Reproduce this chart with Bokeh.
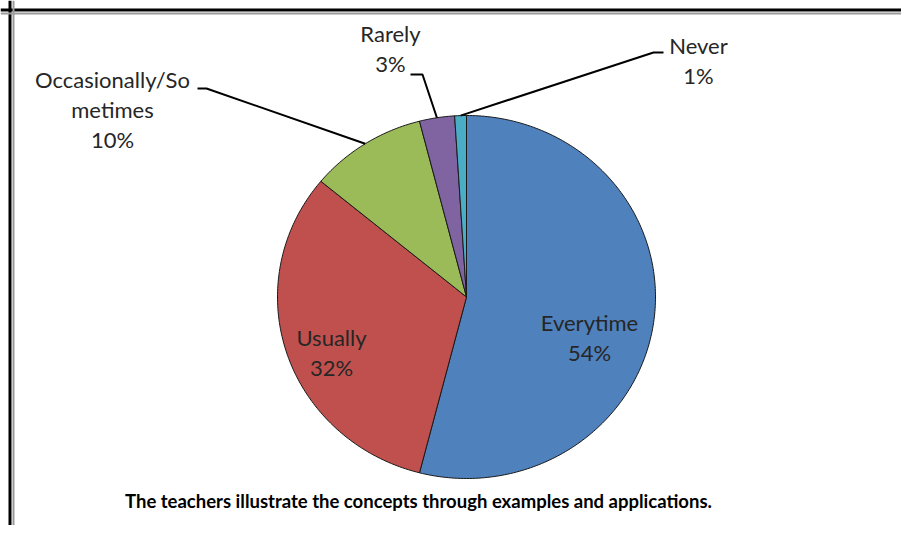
import math
from bokeh.plotting import figure
from bokeh.models import Range1d, Span, ColumnDataSource
from bokeh.core.properties import value
from bokeh.embed import file_html
from bokeh.resources import INLINE

# ---- data ----
categories = ["Everytime", "Usually", "Occasionally/Sometimes", "Rarely", "Never"]
label_names = ["Everytime", "Usually", "Occasionally/So\nmetimes", "Rarely", "Never"]
percent = [54, 32, 10, 3, 1]
colors = ["#4F81BD", "#C0504D", "#9BBB59", "#8064A2", "#4BACC6"]
title_text = "The teachers illustrate the concepts through examples and applications."

# ---- layout (page pixel coordinates) ----
W, H = 901, 525
CX, CY = 466.0, 296.5
RX, RY = 189.0, 181.5
FONT = "Lato"

# label anchor positions (centre of label block) and leader line knee points
label_pos = [(589, 337), (331, 352), (112, 109), (390, 48), (698, 60)]
leader_knee = [None, None, [(197, 88), (206, 88)], [(410, 74), (422, 74)], [(663, 52), (653, 52)]]

p = figure(width=W, height=H, output_backend="svg", toolbar_location=None,
           x_range=Range1d(0, W), y_range=Range1d(H, 0),
           min_border=0, outline_line_color=None)
p.axis.visible = False
p.grid.visible = False
p.background_fill_color = "white"
p.border_fill_color = "white"

def pt(theta_frac, scale=1.0):
    th = 2 * math.pi * theta_frac
    return CX + RX * scale * math.sin(th), CY - RY * scale * math.cos(th)

total = float(sum(percent))
xs, ys, mids = [], [], []
acc = 0.0
for v in percent:
    f0 = acc / total
    f1 = (acc + v) / total
    n = max(4, int(v * 4))
    px, py = [CX], [CY]
    for i in range(n + 1):
        x, y = pt(f0 + (f1 - f0) * i / n)
        px.append(x); py.append(y)
    xs.append(px); ys.append(py)
    mids.append((f0 + f1) / 2)
    acc += v

src = ColumnDataSource(dict(xs=xs, ys=ys, color=colors, cat=categories))
p.patches("xs", "ys", source=src, fill_color="color", line_color="#1a1a1a", line_width=1)

# leader lines
lx, ly = [], []
for i, knee in enumerate(leader_knee):
    if knee is None:
        continue
    ax, ay = pt(mids[i])
    pts = knee + [(ax, ay)]
    lx.append([q[0] for q in pts]); ly.append([q[1] for q in pts])
p.multi_line(lx, ly, line_color="black", line_width=2)

# labels
texts = [f"{n}\n{v}%" for n, v in zip(label_names, percent)]
lsrc = ColumnDataSource(dict(x=[q[0] for q in label_pos], y=[q[1] for q in label_pos], t=texts))
p.text("x", "y", text="t", source=lsrc, text_align="center", text_baseline="middle",
       text_font=value(FONT), text_font_size="22px", text_color="#262626", text_line_height=1.1)

# title
p.text(x=[418], y=[500], text=[title_text], text_align="center", text_baseline="middle",
       text_font=value(FONT), text_font_size="18.5px", text_font_style="bold", text_color="black")

# frame (partial, as cropped in the reference)
p.add_layout(Span(location=9.5, dimension="height", line_color="black", line_width=3))
p.add_layout(Span(location=9.5, dimension="width", line_color="black", line_width=3))
p.add_layout(Span(location=13, dimension="height", line_color="#9a9a9a", line_width=2))
p.add_layout(Span(location=13, dimension="width", line_color="#9a9a9a", line_width=2))

open("out.html", "w").write(file_html(p, INLINE))
